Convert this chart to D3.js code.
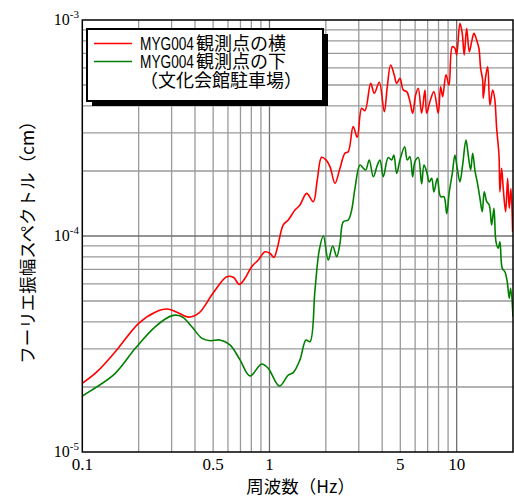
<!DOCTYPE html>
<html>
<head>
<meta charset="utf-8">
<script src="https://cdn.jsdelivr.net/npm/d3@7"></script>
<style>
  html, body { margin: 0; padding: 0; background: #fff; }
  svg { display: block; }
</style>
</head>
<body>
<svg id="chart" width="514" height="499"></svg>
<script>
// Fourier amplitude spectra at MYG004 (frequency in Hz, amplitude in cm)
const seriesNames = ["MYG004観測点の横", "MYG004観測点の下", "（文化会館駐車場）"];
const seriesColors = ["#ff0000", "#008000"];

const redFreq = [0.100,0.120,0.150,0.200,0.245,0.2835,0.320,0.370,0.419,0.500,0.591,0.641,0.690,0.740,0.803,0.871,0.946,1.006,1.057,1.100,1.185,1.260,1.368,1.455,1.580,1.714,1.800,1.900,2.004,2.105,2.239,2.380,2.530,2.636,2.800,2.944,3.108,3.237,3.473,3.630,3.860,4.105,4.260,4.440,4.640,4.780,4.980,5.185,5.410,5.630,5.820,6.040,6.235,6.500,6.770,6.915,7.200,7.560,7.970,8.210,8.420,8.770,9.100,9.480,9.790,10.00,10.41,10.71,10.98,11.31,11.68,12.03,12.37,12.79,13.15,13.43,13.77,13.87,14.29,14.65,15.06,15.57,15.96,16.36,16.83,17.03,17.39,17.74,18.27,18.73,19.10,19.50,19.91];
const redAmp = [2.08e-5,2.355e-5,2.91e-5,3.94e-5,4.44e-5,4.59e-5,4.44e-5,4.21e-5,4.39e-5,5.45e-5,6.48e-5,6.44e-5,5.97e-5,6.37e-5,7.21e-5,7.74e-5,8.45e-5,8.32e-5,7.96e-5,8.77e-5,1.125e-4,1.186e-4,1.318e-4,1.391e-4,1.576e-4,1.442e-4,1.817e-4,2.314e-4,2.25e-4,2.094e-4,1.754e-4,2.058e-4,2.415e-4,2.456e-4,3.21e-4,2.864e-4,3.90e-4,3.80e-4,5.09e-4,4.58e-4,5.15e-4,3.76e-4,4.91e-4,6.19e-4,5.57e-4,5.09e-4,5.37e-4,4.74e-4,4.66e-4,4.19e-4,3.70e-4,4.50e-4,4.83e-4,3.70e-4,4.74e-4,3.70e-4,4.19e-4,4.66e-4,3.70e-4,4.91e-4,4.42e-4,5.57e-4,5.00e-4,7.52e-4,7.40e-4,6.89e-4,9.65e-4,8.68e-4,6.89e-4,9.15e-4,7.13e-4,7.94e-4,8.68e-4,8.08e-4,7.40e-4,5.98e-4,5.28e-4,4.34e-4,5.47e-4,6.08e-4,4.04e-4,4.74e-4,4.34e-4,3.15e-4,2.37e-4,1.60e-4,2.06e-4,1.66e-4,1.296e-4,1.85e-4,1.343e-4,1.66e-4,1.047e-4];

const greenFreq = [0.100,0.120,0.150,0.192,0.245,0.3015,0.341,0.385,0.436,0.483,0.544,0.615,0.696,0.787,0.908,0.985,1.129,1.260,1.340,1.455,1.567,1.646,1.750,1.845,1.940,2.061,2.176,2.286,2.380,2.480,2.636,2.748,2.862,3.043,3.170,3.266,3.413,3.585,3.770,3.893,4.054,4.310,4.495,4.620,4.780,4.980,5.275,5.445,5.630,5.820,5.986,6.235,6.500,6.690,6.915,7.140,7.355,7.560,7.880,8.210,8.550,8.850,9.130,9.480,9.790,10.07,10.41,10.76,11.21,11.53,11.88,12.18,12.55,12.88,13.32,13.70,14.04,14.47,14.93,15.38,15.82,16.22,16.68,17.03,17.52,18.11,18.63,19.10,19.43,20.0];
const greenAmp = [1.817e-5,2.006e-5,2.314e-5,3.02e-5,3.80e-5,4.28e-5,4.23e-5,3.80e-5,3.36e-5,3.275e-5,3.30e-5,3.13e-5,2.67e-5,2.25e-5,2.555e-5,2.44e-5,2.02e-5,2.27e-5,2.33e-5,2.67e-5,3.30e-5,3.24e-5,5.62e-5,8.61e-5,1.00e-4,7.74e-5,8.99e-5,8.02e-5,9.25e-5,1.165e-4,1.186e-4,1.318e-4,1.66e-4,2.13e-4,2.06e-4,2.02e-4,2.25e-4,1.88e-4,2.13e-4,2.25e-4,1.88e-4,2.31e-4,2.25e-4,2.37e-4,1.95e-4,2.25e-4,2.59e-4,2.25e-4,2.33e-4,1.88e-4,2.21e-4,2.31e-4,1.74e-4,2.13e-4,1.985e-4,1.78e-4,1.85e-4,1.60e-4,1.85e-4,1.52e-4,1.52e-4,1.27e-4,1.60e-4,1.95e-4,2.37e-4,2.06e-4,1.78e-4,2.13e-4,2.78e-4,2.37e-4,2.02e-4,2.415e-4,1.985e-4,1.78e-4,1.494e-4,1.296e-4,1.60e-4,1.442e-4,1.391e-4,1.125e-4,1.343e-4,9.41e-5,8.77e-5,9.41e-5,7.09e-5,6.83e-5,6.14e-5,5.15e-5,5.73e-5,4.23e-5];

// axis ticks and labels
const xTickValues = [0.1, 0.5, 1, 5, 10];
const xTickLabels = ["0.1", "0.5", "1", "5", "10"];
const yTickValues = [1e-5, 1e-4, 1e-3];
const yTickExponents = ["-5", "-4", "-3"];
const xTitle = "周波数（Hz）";
const yTitle = "フーリエ振幅スペクトル（cm）";

const svg = d3.select("#chart");
const plot = { left: 82.3, right: 513, top: 20, bottom: 452 };

const x = d3.scaleLog().domain([0.1, 20]).range([plot.left, plot.right]);
const y = d3.scaleLog().domain([1e-5, 1e-3]).range([plot.bottom, plot.top]);

svg.append("defs").append("clipPath").attr("id", "plotClip")
  .append("rect")
  .attr("x", plot.left).attr("y", plot.top)
  .attr("width", plot.right - plot.left).attr("height", plot.bottom - plot.top);

// grid lines at every 1..9 multiple of each decade
const xGrid = x.ticks(30).filter(v => v > 0.1 && v < 20);
const yGrid = y.ticks(30).filter(v => v > 1e-5 && v < 1e-3);
const isDecade = v => Math.abs(Math.log10(v) - Math.round(Math.log10(v))) < 1e-6;

const grid = svg.append("g");
grid.selectAll("line.vx").data(xGrid).join("line")
  .attr("x1", d => x(d)).attr("x2", d => x(d))
  .attr("y1", plot.top).attr("y2", plot.bottom)
  .attr("stroke", d => isDecade(d) ? "#707070" : "#9a9a9a")
  .attr("stroke-width", 1.3);
grid.selectAll("line.hy").data(yGrid).join("line")
  .attr("x1", plot.left).attr("x2", plot.right)
  .attr("y1", d => y(d)).attr("y2", d => y(d))
  .attr("stroke", d => isDecade(d) ? "#707070" : "#9a9a9a")
  .attr("stroke-width", 1.3);

// spectra
const line = d3.line()
  .x(d => x(d[0])).y(d => y(d[1]))
  .curve(d3.curveCatmullRom.alpha(0.5));

const lines = svg.append("g").attr("clip-path", "url(#plotClip)");
lines.append("path")
  .datum(d3.zip(greenFreq, greenAmp))
  .attr("d", line).attr("fill", "none")
  .attr("stroke", seriesColors[1]).attr("stroke-width", 1.6)
  .attr("stroke-linejoin", "round");
lines.append("path")
  .datum(d3.zip(redFreq, redAmp))
  .attr("d", line).attr("fill", "none")
  .attr("stroke", seriesColors[0]).attr("stroke-width", 1.6)
  .attr("stroke-linejoin", "round");

// frame
svg.append("rect")
  .attr("x", plot.left).attr("y", plot.top)
  .attr("width", plot.right - plot.left).attr("height", plot.bottom - plot.top)
  .attr("fill", "none").attr("stroke", "#000").attr("stroke-width", 1.5);

// x tick labels
const serif = "'Liberation Serif', 'Times New Roman', serif";
svg.append("g").selectAll("text").data(xTickValues).join("text")
  .attr("x", d => x(d)).attr("y", 470)
  .attr("text-anchor", "middle")
  .attr("font-family", serif).attr("font-size", 17)
  .text((d, i) => xTickLabels[i]);

// y tick labels as powers of ten
const yLab = svg.append("g").selectAll("text").data(yTickValues).join("text")
  .attr("x", 79).attr("y", d => y(d) + 5)
  .attr("text-anchor", "end")
  .attr("font-family", serif).attr("font-size", 16);
yLab.append("tspan").text("10");
yLab.append("tspan").attr("dy", -7).attr("font-size", 11).text((d, i) => yTickExponents[i]);

// axis titles
const sans = "'Noto Sans CJK JP', 'Noto Sans', sans-serif";
svg.append("text")
  .attr("x", (plot.left + plot.right) / 2 + 3).attr("y", 493)
  .attr("text-anchor", "middle")
  .attr("font-family", sans).attr("font-size", 17.5)
  .text(xTitle);
svg.append("text")
  .attr("transform", `translate(26,${(plot.top + plot.bottom) / 2 + 2}) rotate(-90)`)
  .attr("text-anchor", "middle").attr("dominant-baseline", "central")
  .attr("font-family", sans).attr("font-size", 17.5)
  .text(yTitle);

// legend with drop shadow
const lg = svg.append("g");
const box = { x: 87, y: 29, w: 236, h: 72 };
lg.append("rect")
  .attr("x", box.x + 5).attr("y", box.y + 5).attr("width", box.w).attr("height", box.h)
  .attr("fill", "#000");
lg.append("rect")
  .attr("x", box.x).attr("y", box.y).attr("width", box.w).attr("height", box.h)
  .attr("fill", "#fff").attr("stroke", "#000").attr("stroke-width", 2);

const rowY = [43.5, 61.5];
seriesColors.forEach((c, i) => {
  lg.append("line")
    .attr("x1", 94).attr("x2", 132).attr("y1", rowY[i]).attr("y2", rowY[i])
    .attr("stroke", c).attr("stroke-width", 1.6);
});

// legend labels: compact latin face first so the rows pack tightly,
// Japanese glyphs fall back to Noto Sans CJK; station code set half-width
const legendFont = "'Liberation Sans', 'Noto Sans CJK JP', sans-serif";
const legendRows = [49.5, 68, 86.5];
const codeWidth = 54;
[0, 1].forEach(i => {
  const code = lg.append("text")
    .attr("x", 0).attr("y", 0)
    .attr("font-family", legendFont).attr("font-size", 17.5)
    .text(seriesNames[i].slice(0, 6));
  const natural = code.node().getComputedTextLength();
  code.attr("transform", `translate(140,${legendRows[i]}) scale(${codeWidth / natural},1)`);
  lg.append("text")
    .attr("x", 196).attr("y", legendRows[i])
    .attr("font-family", legendFont).attr("font-size", 18)
    .text(seriesNames[i].slice(6));
});
lg.append("text")
  .attr("x", 140).attr("y", legendRows[2])
  .attr("font-family", legendFont).attr("font-size", 18)
  .text(seriesNames[2]);
</script>
</body>
</html>
